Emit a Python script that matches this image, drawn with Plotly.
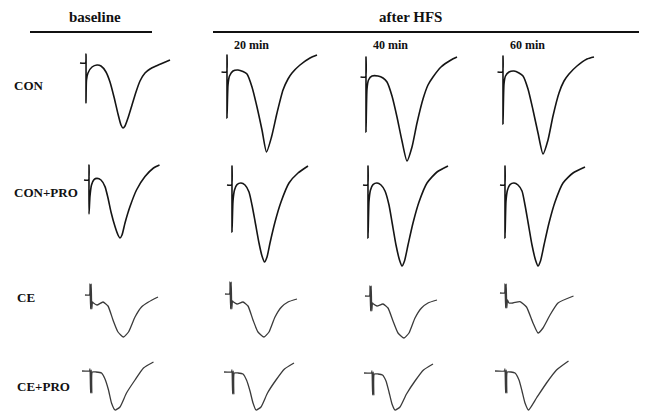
import plotly.graph_objects as go

# ---------------- data (time in ms after stimulus, field potential in mV) ----------------
groups = ["CON", "CON+PRO", "CE", "CE+PRO"]
timepoints = ["baseline", "20 min", "40 min", "60 min"]

con_base_t = [-1.2, -0.1, 0, 0, 0.1, 0.4, 1.2, 2.2, 3.0, 4.0, 4.8, 5.6, 6.4, 7.0, 7.4, 7.8, 8.4, 9.2, 10.0, 10.8, 11.8, 12.8, 14.0, 15.4, 16.8]
con_base_v = [0, 0, 0.45, -2.0, -0.85, -0.5, -0.2, -0.1, -0.15, -0.45, -0.95, -1.7, -2.55, -3.1, -3.25, -3.15, -2.75, -2.1, -1.45, -0.9, -0.5, -0.3, -0.15, 0, 0.15]
con_20_t = [-1.1, -0.1, 0, 0, 0.2, 0.5, 1.2, 2.2, 3.2, 4.0, 5.0, 6.0, 7.0, 7.9, 8.9, 10.0, 11.2, 12.2, 13.0, 14.6, 16.6, 18.0]
con_20_v = [0, 0, 0.85, -2.3, -0.65, -0.2, 0.05, 0.1, 0.02, -0.1, -0.75, -1.75, -2.9, -4.0, -3.25, -2.05, -0.9, -0.35, -0.05, 0.35, 0.7, 0.85]
con_40_t = [-1.1, -0.1, 0, 0, 0.2, 0.5, 1.2, 2.4, 3.4, 4.2, 5.2, 6.2, 7.2, 8.2, 9.2, 10.2, 11.4, 12.4, 13.4, 15.0, 17.0, 18.2]
con_40_v = [0, 0, 1.0, -2.75, -0.6, -0.15, 0.05, 0.05, -0.05, -0.25, -0.95, -2.0, -3.2, -4.2, -3.5, -2.3, -1.1, -0.4, 0, 0.5, 0.85, 1.0]
con_60_t = [-1.1, -0.1, 0, 0, 0.2, 0.5, 1.2, 2.2, 3.2, 4.0, 5.0, 6.0, 7.0, 8.0, 9.0, 10.0, 11.2, 12.2, 13.2, 14.8, 16.8, 18.2]
con_60_v = [0, 0, 0.8, -2.6, -0.6, -0.2, 0, 0.05, -0.05, -0.2, -0.85, -1.9, -3.05, -4.1, -3.4, -2.2, -1.05, -0.45, -0.1, 0.3, 0.65, 0.75]

cp_base_t = [-1.0, -0.1, 0, 0, 0.2, 0.5, 1.0, 1.6, 2.4, 3.2, 3.8, 4.4, 5.2, 5.8, 6.2, 6.6, 7.2, 8.2, 9.5, 11.2, 12.9, 14.1]
cp_base_v = [0, 0, 0.75, -1.7, -0.8, -0.25, 0.02, 0.08, 0.0, -0.33, -0.9, -1.6, -2.33, -2.75, -2.9, -2.75, -2.15, -1.33, -0.5, 0.17, 0.6, 0.75]
cp_20_t = [-1.0, -0.1, 0, 0, 0.2, 0.5, 1.0, 1.8, 2.6, 3.4, 4.0, 4.6, 5.4, 6.0, 6.5, 7.0, 7.6, 8.6, 9.8, 11.4, 13.2, 15.2]
cp_20_v = [0, 0, 0.95, -2.35, -0.8, -0.25, 0.02, 0.1, 0.0, -0.35, -1.0, -1.8, -2.9, -3.55, -3.85, -3.6, -2.9, -1.85, -0.85, 0.1, 0.6, 0.95]
cp_40_t = [-1.0, -0.1, 0, 0, 0.2, 0.5, 1.0, 1.8, 2.6, 3.4, 4.2, 4.8, 5.6, 6.3, 6.8, 7.3, 8.0, 9.0, 10.2, 11.8, 13.8, 16.0]
cp_40_v = [0, 0, 0.95, -2.65, -0.8, -0.25, 0.02, 0.1, 0.0, -0.3, -1.0, -1.85, -3.0, -3.75, -4.05, -3.8, -3.0, -1.9, -0.85, 0.1, 0.65, 0.95]
cp_60_t = [-1.0, -0.1, 0, 0, 0.2, 0.5, 1.0, 1.8, 2.6, 3.4, 4.0, 4.6, 5.4, 6.1, 6.6, 7.1, 7.8, 8.8, 10.0, 11.6, 13.6, 16.0]
cp_60_v = [0, 0, 0.95, -2.65, -0.8, -0.25, 0.02, 0.1, 0.0, -0.3, -1.0, -1.85, -3.0, -3.75, -4.05, -3.8, -3.0, -1.9, -0.85, 0.1, 0.6, 0.9]

ce_base_t = [-1.0, -0.1, 0, 0.12, 0.24, 0.36, 0.5, 0.7, 1.4, 2.6, 3.6, 4.6, 5.6, 6.7, 7.7, 9.0, 10.3, 11.7, 13.6]
ce_base_v = [0, 0, 0.55, -0.7, 0.55, -0.7, -0.35, -0.4, -0.5, -0.35, -0.55, -1.25, -1.85, -2.1, -1.85, -1.1, -0.6, -0.35, -0.1]
ce_20_t = [-1.0, -0.1, 0, 0.12, 0.24, 0.36, 0.5, 0.7, 1.4, 2.6, 3.6, 4.6, 5.6, 6.8, 7.8, 9.0, 10.3, 11.6, 13.4]
ce_20_v = [0, 0, 0.6, -0.75, 0.6, -0.75, -0.35, -0.4, -0.5, -0.4, -0.6, -1.3, -1.9, -2.15, -1.9, -1.15, -0.65, -0.4, -0.25]
ce_40_t = [-1.0, -0.1, 0, 0.12, 0.24, 0.36, 0.5, 0.7, 1.4, 2.6, 3.6, 4.6, 5.6, 6.8, 7.8, 9.0, 10.3, 11.6, 13.4]
ce_40_v = [0, 0, 0.5, -0.75, 0.5, -0.75, -0.35, -0.4, -0.5, -0.4, -0.6, -1.25, -1.85, -2.1, -1.85, -1.1, -0.6, -0.35, -0.2]
ce_60_t = [-1.0, -0.1, 0, 0.12, 0.24, 0.36, 0.5, 0.8, 1.6, 3.0, 4.3, 5.6, 6.6, 7.6, 9.0, 10.6, 13.7]
ce_60_v = [0, 0, 0.45, -0.75, 0.45, -0.75, -0.35, -0.5, -0.5, -0.43, -0.7, -1.5, -2.0, -1.75, -1.1, -0.5, -0.15]

cep_base_t = [-1.6, -0.1, 0, 0.12, 0.24, 0.36, 0.45, 1.2, 2.3, 3.0, 3.7, 4.3, 5.0, 6.0, 7.3, 9.0, 10.7, 12.7]
cep_base_v = [0, 0, 0.1, -1.1, 0.05, -1.1, -0.05, -0.05, -0.1, -0.4, -0.95, -1.6, -1.95, -1.8, -1.1, -0.45, 0.15, 0.45]
cep_20_t = [-1.6, -0.1, 0, 0.12, 0.24, 0.36, 0.45, 1.2, 2.2, 2.9, 3.6, 4.2, 4.8, 5.8, 7.1, 8.8, 10.5, 12.4]
cep_20_v = [0, 0, 0.1, -1.1, 0.05, -1.1, -0.05, -0.05, -0.1, -0.4, -0.95, -1.55, -1.9, -1.75, -1.05, -0.4, 0.15, 0.45]
cep_40_t = [-1.6, -0.1, 0, 0.12, 0.24, 0.36, 0.45, 1.2, 2.1, 2.8, 3.4, 4.0, 4.6, 5.6, 6.9, 8.6, 10.3, 12.2]
cep_40_v = [0, 0, 0.1, -1.1, 0.05, -1.1, -0.05, -0.05, -0.1, -0.4, -0.95, -1.55, -1.85, -1.7, -1.05, -0.4, 0.15, 0.45]
cep_60_t = [-2.0, -0.1, 0, 0.12, 0.24, 0.36, 0.45, 1.2, 2.0, 2.8, 3.4, 4.0, 4.7, 6.3, 8.3, 10.3, 12.7]
cep_60_v = [0, 0, 0.1, -1.1, 0.05, -1.1, -0.05, -0.05, -0.1, -0.45, -1.0, -1.6, -1.95, -1.35, -0.6, 0.05, 0.5]

traces = {
    "CON": [(con_base_t, con_base_v), (con_20_t, con_20_v), (con_40_t, con_40_v), (con_60_t, con_60_v)],
    "CON+PRO": [(cp_base_t, cp_base_v), (cp_20_t, cp_20_v), (cp_40_t, cp_40_v), (cp_60_t, cp_60_v)],
    "CE": [(ce_base_t, ce_base_v), (ce_20_t, ce_20_v), (ce_40_t, ce_40_v), (ce_60_t, ce_60_v)],
    "CE+PRO": [(cep_base_t, cep_base_v), (cep_20_t, cep_20_v), (cep_40_t, cep_40_v), (cep_60_t, cep_60_v)],
}

# ---------------- layout (screen-pixel placement of each panel's stimulus/baseline origin) ----------------
OFF = 8                      # page body margin
W, H = 647 - OFF, 414 - OFF  # figure size that fits in the window
PX_PER_MS = 5.0
PX_PER_MV = 20.0
origins = {
    "CON": [(86, 63), (227, 72), (366, 77), (503, 72)],
    "CON+PRO": [(89, 180), (232, 185), (368, 185), (505, 185)],
    "CE": [(90, 295), (230, 294), (370, 296), (505, 293)],
    "CE+PRO": [(90, 371), (232, 372), (372, 373), (505, 371)],
}
row_style = {
    "CON": dict(color="#151515", width=1.6, shape="spline", smoothing=0.6),
    "CON+PRO": dict(color="#151515", width=1.6, shape="spline", smoothing=0.6),
    "CE": dict(color="#3a3a3a", width=1.3, shape="spline", smoothing=0.5),
    "CE+PRO": dict(color="#3a3a3a", width=1.3, shape="spline", smoothing=0.5),
}
label_pos = {"CON": (12, 85), "CON+PRO": (12, 192), "CE": (15, 297), "CE+PRO": (15, 386)}


def fx(x):
    return x - OFF


def fy(y):
    return y - OFF


fig = go.Figure()
layout_axes = {}
k = 0
for g in groups:
    for j, (t, v) in enumerate(traces[g]):
        k += 1
        x0, y0 = fx(origins[g][j][0]), fy(origins[g][j][1])
        left = max(0, x0 - 25)
        right = min(W, x0 + 115)
        top = max(0, y0 - 45)
        bottom = min(H, y0 + 105)
        xr = [(left - x0) / PX_PER_MS, (right - x0) / PX_PER_MS]
        yr = [(y0 - bottom) / PX_PER_MV, (y0 - top) / PX_PER_MV]
        xa = "x" if k == 1 else f"x{k}"
        ya = "y" if k == 1 else f"y{k}"
        fig.add_trace(go.Scatter(x=t, y=v, mode="lines", line=row_style[g],
                                 xaxis=xa, yaxis=ya, hoverinfo="skip", showlegend=False))
        xname = "xaxis" if k == 1 else f"xaxis{k}"
        yname = "yaxis" if k == 1 else f"yaxis{k}"
        layout_axes[xname] = dict(domain=[left / W, right / W], range=xr, visible=False,
                                  anchor=ya, fixedrange=True)
        layout_axes[yname] = dict(domain=[1 - bottom / H, 1 - top / H], range=yr, visible=False,
                                  anchor=xa, fixedrange=True)

fig.update_layout(**layout_axes)

FONT = "Liberation Serif"
ann = []


def px(x, y):
    return fx(x) / W, 1 - fy(y) / H


for txt, (x, y), size in [("<b>baseline</b>", (95, 17), 15), ("<b>after HFS</b>", (410, 17), 15),
                          ("<b>20 min</b>", (251, 45), 12), ("<b>40 min</b>", (390, 45), 12),
                          ("<b>60 min</b>", (527, 45), 12)]:
    xp, yp = px(x, y)
    ann.append(dict(text=txt, x=xp, y=yp, xref="paper", yref="paper", showarrow=False,
                    xanchor="center", yanchor="middle", font=dict(family=FONT, size=size, color="#111")))
for g in groups:
    x, y = label_pos[g]
    xp, yp = px(x, y)
    ann.append(dict(text=f"<b>{g}</b>", x=xp, y=yp, xref="paper", yref="paper", showarrow=False,
                    xanchor="left", yanchor="middle", font=dict(family=FONT, size=13, color="#111")))

shapes = []
for (xa_, xb_) in [(30, 152), (213, 647)]:
    shapes.append(dict(type="line", xref="paper", yref="paper", x0=fx(xa_) / W, x1=min(W, fx(xb_)) / W,
                       y0=1 - fy(32) / H, y1=1 - fy(32) / H, line=dict(color="#111", width=2)))

fig.update_layout(width=W, height=H, margin=dict(l=0, r=0, t=0, b=0),
                  paper_bgcolor="white", plot_bgcolor="rgba(0,0,0,0)",
                  annotations=ann, shapes=shapes, showlegend=False)

fig.write_html("out.html")
